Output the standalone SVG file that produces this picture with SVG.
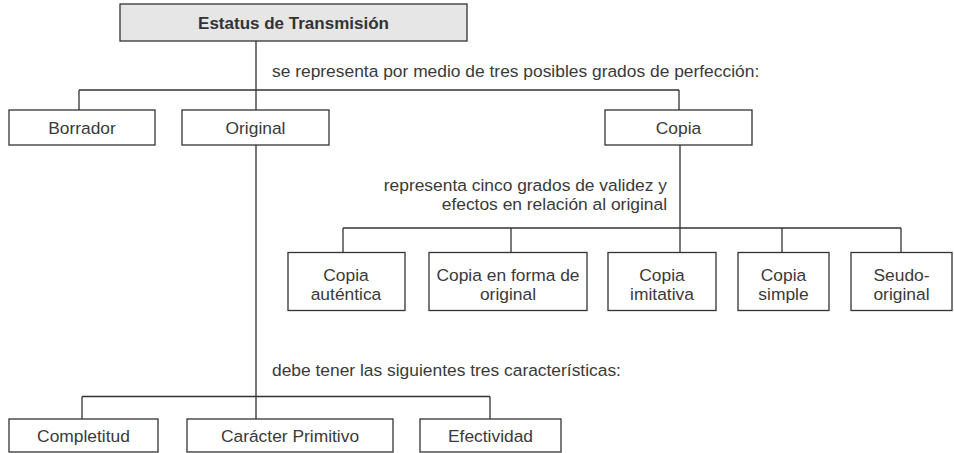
<svg xmlns="http://www.w3.org/2000/svg" width="954" height="453" viewBox="0 0 954 453">
<style>
.box{fill:#ffffff;stroke:#333333;stroke-width:1.3}
.root{fill:#e6e6e6;stroke:#333333;stroke-width:1.3}
.t{font-family:"Liberation Sans",Arial,sans-serif;font-size:17.4px;fill:#3a3a3a;text-anchor:middle}
.b{font-weight:bold;font-size:17px;fill:#333333}
.lbl{font-family:"Liberation Sans",Arial,sans-serif;font-size:17.4px;fill:#3a3a3a}
.c{fill:none;stroke:#333333;stroke-width:1.3}
</style>
<rect width="954" height="453" fill="#ffffff"/>
<g id="connectors">
<path class="c" d="M256 41V110M79 90H679M79 90V110M679 90V110"/>
<path class="c" d="M256 145V419M82 396.5H490M82 396.5V419M490 396.5V419"/>
<path class="c" d="M680 145V252.5M343 228H901M343 228V252.5M511 228V252.5M782 228V252.5M901 228V252.5"/>
<text class="lbl" x="272" y="77">se representa por medio de tres posibles grados de perfección:</text>
<text class="lbl" x="667" y="191" text-anchor="end">representa cinco grados de validez y</text>
<text class="lbl" x="667" y="210" text-anchor="end">efectos en relación al original</text>
<text class="lbl" x="272" y="376">debe tener las siguientes tres características:</text>
</g>
<g id="root"><rect class="root" x="120" y="4" width="347" height="37"/><text class="t b" x="293.5" y="28.5">Estatus de Transmisión</text></g>
<g id="borrador"><rect class="box" x="9" y="110" width="146" height="35"/><text class="t" x="82" y="133.5">Borrador</text></g>
<g id="original"><rect class="box" x="182" y="110" width="147" height="35"/><text class="t" x="255.5" y="133.5">Original</text></g>
<g id="copia"><rect class="box" x="605" y="110" width="147" height="35"/><text class="t" x="678.5" y="133.5">Copia</text></g>
<g id="copia-autentica"><rect class="box" x="288" y="252.5" width="117" height="58"/><text class="t" x="346" y="280.5">Copia</text><text class="t" x="346" y="300">auténtica</text></g>
<g id="copia-forma-original"><rect class="box" x="429" y="252.5" width="158" height="58"/><text class="t" x="508" y="280.5">Copia en forma de</text><text class="t" x="508" y="300">original</text></g>
<g id="copia-imitativa"><rect class="box" x="608" y="252.5" width="108" height="58"/><text class="t" x="662" y="280.5">Copia</text><text class="t" x="662" y="300">imitativa</text></g>
<g id="copia-simple"><rect class="box" x="738" y="252.5" width="91" height="58"/><text class="t" x="783.5" y="280.5">Copia</text><text class="t" x="783.5" y="300">simple</text></g>
<g id="seudo-original"><rect class="box" x="851" y="252.5" width="101" height="58"/><text class="t" x="901.5" y="280.5">Seudo-</text><text class="t" x="901.5" y="300">original</text></g>
<g id="completitud"><rect class="box" x="9" y="419" width="149" height="33"/><text class="t" x="83.5" y="441.5">Completitud</text></g>
<g id="caracter-primitivo"><rect class="box" x="187" y="419" width="206" height="33"/><text class="t" x="290" y="441.5">Carácter Primitivo</text></g>
<g id="efectividad"><rect class="box" x="420" y="419" width="141" height="33"/><text class="t" x="490.5" y="441.5">Efectividad</text></g>
</svg>
